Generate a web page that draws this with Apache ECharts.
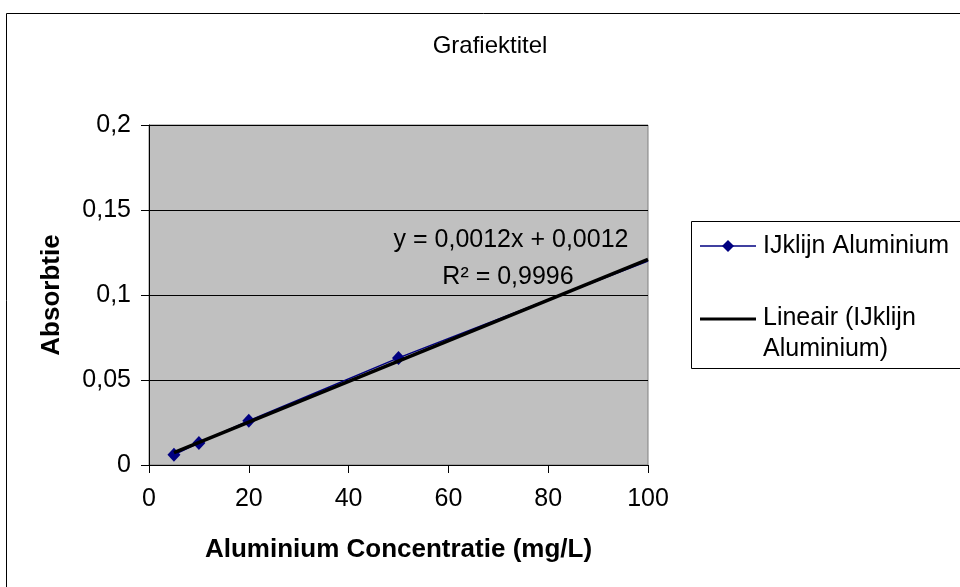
<!DOCTYPE html>
<html>
<head>
<meta charset="utf-8">
<script src="https://cdn.jsdelivr.net/npm/echarts@6/dist/echarts.min.js"></script>
<style>
html,body{margin:0;padding:0;background:#fff;}
#chart{width:960px;height:587px;}
</style>
</head>
<body>
<div id="chart"></div>
<script>
// ---- data ----
var concentrations = [5, 10, 20, 50, 100];
var absorbances = [0.006, 0.013, 0.026, 0.063, 0.12];
var markerShown = [true, true, true, true, false];
var xTicks = [0, 20, 40, 60, 80, 100];
var yTicks = [0, 0.05, 0.1, 0.15, 0.2];
var yTickLabels = ['0', '0,05', '0,1', '0,15', '0,2'];
var chartTitle = 'Grafiektitel';
var xAxisTitle = 'Aluminium Concentratie (mg/L)';
var yAxisTitle = 'Absorbtie';
var seriesName = 'IJklijn Aluminium';
var trendNameLines = ['Lineair (IJklijn', 'Aluminium)'];
var equationText = 'y = 0,0012x + 0,0012';
var r2Text = 'R\u00B2 = 0,9996';

// ---- linear regression from the data ----
var n = concentrations.length, sx = 0, sy = 0, sxx = 0, sxy = 0;
for (var i = 0; i < n; i++) {
  sx += concentrations[i]; sy += absorbances[i];
  sxx += concentrations[i] * concentrations[i];
  sxy += concentrations[i] * absorbances[i];
}
var slope = (n * sxy - sx * sy) / (n * sxx - sx * sx);
var intercept = (sy - slope * sx) / n;
var xMinData = Math.min.apply(null, concentrations);
var xMaxData = Math.max.apply(null, concentrations);
var trendData = [[xMinData, intercept + slope * xMinData], [xMaxData, intercept + slope * xMaxData]];

var seriesData = concentrations.map(function (x, i) {
  var d = { value: [x, absorbances[i]] };
  if (!markerShown[i]) d.symbol = 'none';
  return d;
});

var FONT = '"Liberation Sans", Arial, sans-serif';
var chart = echarts.init(document.getElementById('chart'), null, { renderer: 'canvas' });

var option = {
  backgroundColor: '#ffffff',
  animation: false,
  grid: {
    left: 149, top: 125, width: 499, height: 340,
    show: true, backgroundColor: '#C0C0C0', borderColor: '#808080', borderWidth: 1,
    containLabel: false
  },
  xAxis: {
    type: 'value', min: xTicks[0], max: xTicks[xTicks.length - 1], interval: 20,
    name: xAxisTitle, nameLocation: 'middle', nameGap: 72,
    nameTextStyle: { fontFamily: FONT, fontSize: 26, fontWeight: 'bold', color: '#000' },
    axisLine: { show: true, onZero: false, lineStyle: { color: '#000', width: 1 } },
    axisTick: { show: true, inside: false, length: 8, lineStyle: { color: '#000' } },
    axisLabel: { margin: 22, fontFamily: FONT, fontSize: 25, color: '#000' },
    splitLine: { show: false }
  },
  yAxis: {
    type: 'value', min: yTicks[0], max: yTicks[yTicks.length - 1], interval: 0.05,
    name: yAxisTitle, nameLocation: 'middle', nameGap: 84, nameRotate: 90,
    nameTextStyle: { fontFamily: FONT, fontSize: 26, fontWeight: 'bold', color: '#000' },
    axisLine: { show: true, onZero: false, lineStyle: { color: '#000', width: 1 } },
    axisTick: { show: true, inside: false, length: 8, lineStyle: { color: '#000' } },
    axisLabel: {
      margin: 18, fontFamily: FONT, fontSize: 25, color: '#000',
      formatter: function (v) {
        for (var k = 0; k < yTicks.length; k++) if (Math.abs(yTicks[k] - v) < 1e-9) return yTickLabels[k];
        return String(v).replace('.', ',');
      }
    },
    splitLine: { show: true, lineStyle: { color: '#000', width: 1 } }
  },
  series: [
    {
      name: seriesName, type: 'line', data: seriesData,
      symbol: 'diamond', symbolSize: [13, 14],
      itemStyle: { color: '#000080' },
      lineStyle: { color: '#000080', width: 1.5 },
      z: 2
    },
    {
      name: 'trend', type: 'line', data: trendData,
      symbol: 'none', lineStyle: { color: '#000', width: 3.5 },
      z: 3
    }
  ],
  graphic: [
    { type: 'rect', shape: { x: 6.5, y: 13.5, width: 1000, height: 1000 },
      style: { fill: 'none', stroke: '#000', lineWidth: 1 }, z: 0, silent: true },
    { type: 'text', x: 490, y: 46,
      style: { text: chartTitle, font: '24px ' + FONT, fill: '#000', textAlign: 'center', textVerticalAlign: 'middle' } },
    { type: 'text', x: 511, y: 240,
      style: { text: equationText, font: '25px ' + FONT, fill: '#000', textAlign: 'center', textVerticalAlign: 'middle' }, z: 10 },
    { type: 'text', x: 508, y: 277,
      style: { text: r2Text, font: '25px ' + FONT, fill: '#000', textAlign: 'center', textVerticalAlign: 'middle' }, z: 10 },
    // legend
    { type: 'rect', shape: { x: 691.5, y: 221.5, width: 400, height: 147 },
      style: { fill: '#fff', stroke: '#000', lineWidth: 1 }, z: 5 },
    { type: 'line', shape: { x1: 700, y1: 246, x2: 756, y2: 246 },
      style: { stroke: '#000080', lineWidth: 1.5 }, z: 6 },
    { type: 'polygon', shape: { points: [[728, 240], [734, 246], [728, 252], [722, 246]] },
      style: { fill: '#000080' }, z: 7 },
    { type: 'text', x: 763, y: 246,
      style: { text: seriesName, font: '25px ' + FONT, fill: '#000', textVerticalAlign: 'middle' }, z: 7 },
    { type: 'line', shape: { x1: 700, y1: 319, x2: 756, y2: 319 },
      style: { stroke: '#000', lineWidth: 3 }, z: 6 },
    { type: 'text', x: 763, y: 318,
      style: { text: trendNameLines[0], font: '25px ' + FONT, fill: '#000', textVerticalAlign: 'middle' }, z: 7 },
    { type: 'text', x: 763, y: 349,
      style: { text: trendNameLines[1], font: '25px ' + FONT, fill: '#000', textVerticalAlign: 'middle' }, z: 7 }
  ]
};
chart.setOption(option);
</script>
</body>
</html>
